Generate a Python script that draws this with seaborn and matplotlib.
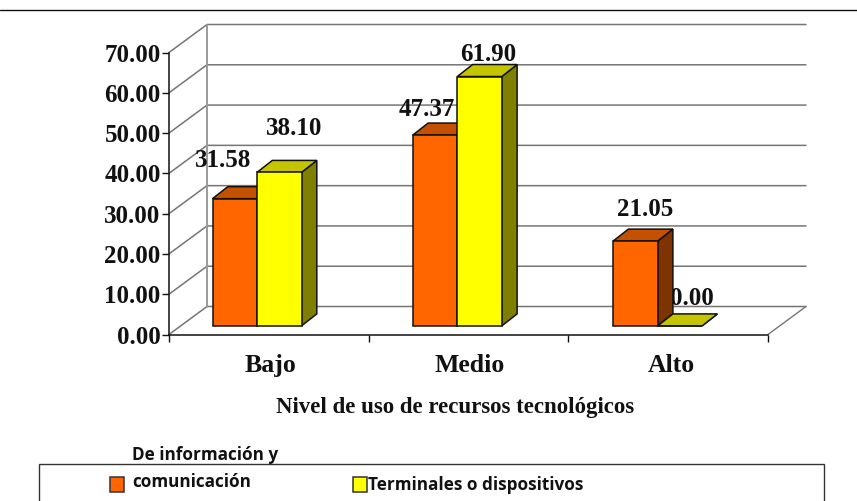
import matplotlib
matplotlib.use("Agg")
import matplotlib.pyplot as plt
import pandas as pd
import seaborn as sns
from matplotlib.patches import Polygon, Rectangle

# values
niveles = ["Bajo", "Medio", "Alto"]
info_com = [31.58, 47.37, 21.05]
terminales = [38.10, 61.90, 0.00]
y_ticks = [0, 10, 20, 30, 40, 50, 60, 70]

W, H = 857, 501
PX_CAT = 200.3   # pixels per category
PX_VAL = 4.03    # pixels per unit of value
AX_L, AX_R, AX_B, AX_T = 169, 768, 334.5, 52.5
# depth of the fake 3D box, and of the bars, in data units
BOX_DX, BOX_DY = 38 / PX_CAT, 28 / PX_VAL
BAR_DX, BAR_DY = 15.3 / PX_CAT, 12 / PX_VAL
BAR_BASE = 8.6 / PX_VAL

# label offsets from the top centre of each bar, in pixels
off_info = [(-12, 38), (-8, 26), (10, 32)]
off_term = [(15, 44), (9, 22), (12, 27)]

sns.set_theme(style="white")
plt.rcParams["font.family"] = ["Liberation Serif"]

df = pd.DataFrame({
    "nivel": niveles * 2,
    "valor": info_com + terminales,
    "tipo": ["info"] * 3 + ["term"] * 3,
})

fig = plt.figure(figsize=(W / 100, H / 100), dpi=100)
ax = fig.add_axes([AX_L / W, 1 - AX_B / H, (AX_R - AX_L) / W, (AX_B - AX_T) / H])

sns.barplot(data=df, x="nivel", y="valor", hue="tipo", order=niveles, width=89 / PX_CAT,
            palette={"info": "#FF6600", "term": "#FFFF00"}, saturation=1, gap=0, legend=False,
            edgecolor="#111111", linewidth=1.1, ax=ax)

x0 = (AX_L - 257) / PX_CAT
x1 = (AX_R - 257) / PX_CAT
ax.set_xlim(x0, x1)
ax.set_ylim(0, 70)

# walls and gridlines
wall = "#757575"
for v in y_ticks:
    ax.plot([x0, x0 + BOX_DX, x1 + BOX_DX],
            [v, v + BOX_DY, v + BOX_DY], color=wall, lw=1.1, zorder=1, clip_on=False)
ax.plot([x0 + BOX_DX] * 2, [BOX_DY, 70 + BOX_DY], color="#9a9a9a", lw=1.4, zorder=1, clip_on=False)
ax.plot([x1, x1 + BOX_DX], [0, BOX_DY], color=wall, lw=1, zorder=1, clip_on=False)

# bars get a side and a top face
shades = {0: ("#C45000", "#7F3300"), 1: ("#C4C400", "#808000")}
bars = list(ax.patches)
for i, bar in enumerate(bars):
    group = i // 3
    z = 4 + group
    bar.set_y(BAR_BASE)
    bar.set_zorder(z + 0.5)
    bar.set_clip_on(False)
    l, r = bar.get_x(), bar.get_x() + bar.get_width()
    top = BAR_BASE + bar.get_height()
    top_face = Polygon([(l, top), (l + BAR_DX, top + BAR_DY), (r + BAR_DX, top + BAR_DY), (r, top)],
                       facecolor=shades[group][0], edgecolor="#111111", lw=1.1, zorder=z, clip_on=False)
    side_face = Polygon([(r, BAR_BASE), (r + BAR_DX, BAR_BASE + BAR_DY), (r + BAR_DX, top + BAR_DY), (r, top)],
                        facecolor=shades[group][1], edgecolor="#111111", lw=1.1, zorder=z, clip_on=False)
    ax.add_patch(side_face)
    ax.add_patch(top_face)

    values = info_com if group == 0 else terminales
    offsets = off_info if group == 0 else off_term
    ax.annotate(f"{values[i % 3]:.2f}", xy=(bar.get_x() + bar.get_width() / 2, top),
                xytext=offsets[i % 3], textcoords="offset pixels", ha="center", va="center",
                fontsize=18, fontweight="bold", color="#111111", zorder=3, annotation_clip=False)

# axes
sns.despine(ax=ax)
for side in ["left", "bottom"]:
    ax.spines[side].set_color("#111111")
    ax.spines[side].set_linewidth(1.1)
    ax.spines[side].set_zorder(6)
ax.set_yticks(y_ticks, labels=[f"{v:.2f}" for v in y_ticks], fontsize=18, fontweight="bold", color="#111111")
ax.tick_params(axis="y", left=True, length=5, width=1, color="#111111", pad=1)
ax.set_xticks([x0 + k * (x1 - x0) / 3 for k in range(4)], labels=[])
ax.tick_params(axis="x", which="major", bottom=True, length=5, width=1, color="#111111")
ax.set_xticks([(c - 257) / PX_CAT for c in (270, 470, 671)], labels=niveles, minor=True,
              fontsize=18.5, fontweight="bold", color="#111111")
ax.tick_params(axis="x", which="minor", bottom=False, length=0, pad=14)
ax.set_xlabel("Nivel de uso de recursos tecnológicos", fontsize=16.5, fontweight="bold", color="#111111", va="center")
ax.xaxis.set_label_coords((455 - AX_L) / (AX_R - AX_L), -(407 - AX_B) / (AX_B - AX_T))
ax.set_ylabel("")


def fx(px):
    return px / W


def fy(px):
    return 1 - px / H


# rule on top, legend box running off the bottom
fig.add_artist(plt.Line2D([0, 1], [fy(10), fy(10)], color="#111111", lw=1))
fig.add_artist(Rectangle((fx(39), fy(520)), fx(824) - fx(39), fy(464) - fy(520), fill=False,
                         edgecolor="#333333", lw=1, transform=fig.transFigure))
for px, col in [(110, "#FF6600"), (353, "#FFFF00")]:
    fig.add_artist(Rectangle((fx(px), fy(492)), 14 / W, 15 / H, facecolor=col,
                             edgecolor="#333333", lw=1.1, transform=fig.transFigure))
leg_font = dict(family="Open Sans", fontweight="bold", fontsize=12.3, color="#111111", va="center")
fig.text(fx(132), fy(455), "De información y", **leg_font)
fig.text(fx(132), fy(482), "comunicación", **leg_font)
fig.text(fx(368), fy(485), "Terminales o dispositivos", **leg_font)

fig.savefig("out.png", dpi=100)
